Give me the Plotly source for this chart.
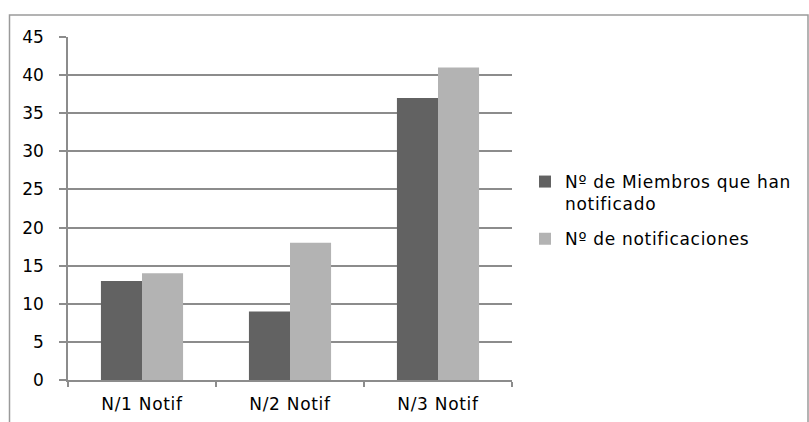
import plotly.graph_objects as go

categories = ["N/1 Notif", "N/2 Notif", "N/3 Notif"]
miembros = [13, 9, 37]
notificaciones = [14, 18, 41]
series_names = ["Nº de Miembros que han<br>notificado", "Nº de notificaciones"]
y_ticks = [0, 5, 10, 15, 20, 25, 30, 35, 40, 45]

W, H = 809, 422
L, R, T, B = 68, 297, 37, 42
pw, ph = W - L - R, H - T - B

def spaced(txt):
    return "<br>".join('<span style="letter-spacing:0.7px">%s</span>' % p
                       for p in txt.split("<br>"))

fig = go.Figure()
fig.add_trace(go.Bar(x=categories, y=miembros, name=spaced(series_names[0]),
                     legendgroup="a",
                     marker=dict(color="#626262", line=dict(width=0))))
fig.add_trace(go.Bar(x=categories, y=notificaciones, name=spaced(series_names[1]),
                     legendgroup="b",
                     marker=dict(color="#b3b3b3", line=dict(width=0))))

def px(x):
    return (x - L) / pw

def py(y):
    return (H - B - y) / ph

fig.add_shape(type="rect", xref="paper", yref="paper",
              x0=px(9.5), x1=px(808), y0=py(440), y1=py(15),
              line=dict(color="#9a9a9a", width=1.5), fillcolor="rgba(0,0,0,0)")

FONT = "DejaVu Sans, sans-serif"
fig.update_layout(
    width=W, height=H,
    margin=dict(l=L, r=R, t=T, b=B, autoexpand=False),
    paper_bgcolor="white", plot_bgcolor="white",
    barmode="group", bargap=0.445, bargroupgap=0,
    font=dict(family=FONT, size=17, color="#000000"),
    showlegend=True,
    legend=dict(x=px(525), y=py(164), xanchor="left", yanchor="top", valign="top",
                font=dict(size=17, family=FONT), itemwidth=30,
                tracegroupgap=10, bgcolor="rgba(0,0,0,0)"),
    xaxis=dict(type="category", automargin=False, showline=True, linecolor="#8c8c8c",
               linewidth=1.5, ticks="outside", tickson="boundaries", ticklen=5,
               tickcolor="#8c8c8c", tickwidth=1.5, showgrid=False,
               tickvals=categories, ticktext=[spaced(c) for c in categories],
               tickfont=dict(size=17), ticklabelstandoff=8),
    yaxis=dict(range=[0, 45], automargin=False, tickvals=y_ticks, showline=True,
               linecolor="#8c8c8c", linewidth=1.5, ticks="outside", ticklen=7,
               tickcolor="#8c8c8c", tickwidth=1.5, showgrid=True, gridcolor="#8c8c8c",
               gridwidth=1.5, zeroline=False, tickfont=dict(size=17), ticklabelstandoff=12),
)

fig.write_html("out.html", config={"displayModeBar": False},
               post_script="document.body.style.margin='0';document.body.style.overflow='hidden';")
